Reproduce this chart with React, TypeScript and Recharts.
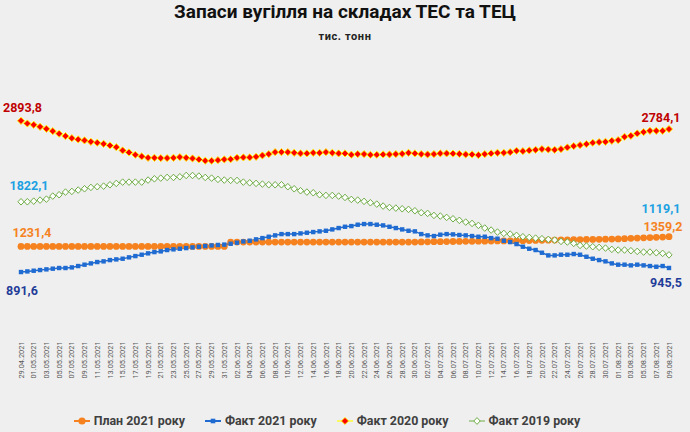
import { LineChart, Line, XAxis, YAxis, Legend, LabelList } from 'recharts';

const dates = [
  '29.04.2021', '30.04.2021',
  '01.05.2021', '02.05.2021', '03.05.2021', '04.05.2021', '05.05.2021', '06.05.2021', '07.05.2021', '08.05.2021',
  '09.05.2021', '10.05.2021', '11.05.2021', '12.05.2021', '13.05.2021', '14.05.2021', '15.05.2021', '16.05.2021',
  '17.05.2021', '18.05.2021', '19.05.2021', '20.05.2021', '21.05.2021', '22.05.2021', '23.05.2021', '24.05.2021',
  '25.05.2021', '26.05.2021', '27.05.2021', '28.05.2021', '29.05.2021', '30.05.2021', '31.05.2021',
  '01.06.2021', '02.06.2021', '03.06.2021', '04.06.2021', '05.06.2021', '06.06.2021', '07.06.2021', '08.06.2021',
  '09.06.2021', '10.06.2021', '11.06.2021', '12.06.2021', '13.06.2021', '14.06.2021', '15.06.2021', '16.06.2021',
  '17.06.2021', '18.06.2021', '19.06.2021', '20.06.2021', '21.06.2021', '22.06.2021', '23.06.2021', '24.06.2021',
  '25.06.2021', '26.06.2021', '27.06.2021', '28.06.2021', '29.06.2021', '30.06.2021',
  '01.07.2021', '02.07.2021', '03.07.2021', '04.07.2021', '05.07.2021', '06.07.2021', '07.07.2021', '08.07.2021',
  '09.07.2021', '10.07.2021', '11.07.2021', '12.07.2021', '13.07.2021', '14.07.2021', '15.07.2021', '16.07.2021',
  '17.07.2021', '18.07.2021', '19.07.2021', '20.07.2021', '21.07.2021', '22.07.2021', '23.07.2021', '24.07.2021',
  '25.07.2021', '26.07.2021', '27.07.2021', '28.07.2021', '29.07.2021', '30.07.2021', '31.07.2021',
  '01.08.2021', '02.08.2021', '03.08.2021', '04.08.2021', '05.08.2021', '06.08.2021', '07.08.2021', '08.08.2021',
  '09.08.2021',
];

// тис. тонн
const plan2021 = [
  1231.4, 1231.4, 1231.4, 1231.4, 1231.4, 1231.4, 1231.4, 1231.4, 1231.4, 1231.4,
  1231.4, 1231.4, 1231.4, 1231.4, 1231.4, 1231.4, 1231.4, 1231.4, 1231.4, 1231.4,
  1231.4, 1231.4, 1231.4, 1231.4, 1231.4, 1231.4, 1231.4, 1231.4, 1231.4, 1231.4,
  1231.4, 1231.4, 1231.4,
  1289, 1289, 1289, 1289, 1289, 1289, 1289, 1289, 1289, 1289,
  1289, 1289, 1289, 1289, 1289, 1289, 1289, 1289, 1289, 1289,
  1289, 1289, 1289, 1289, 1289, 1289, 1289, 1289, 1289, 1289,
  1290, 1291, 1293, 1294, 1295, 1296, 1297, 1298, 1298, 1300,
  1300, 1302, 1303, 1304, 1305, 1306, 1307, 1309, 1310, 1311,
  1313, 1315, 1317, 1318, 1320, 1322, 1323, 1324, 1325, 1327, 1328,
  1330, 1334, 1338, 1341, 1344, 1348, 1351, 1355, 1359.2,
];

const fact2021 = [
  891.6, 900, 909, 918, 927, 936, 945, 945, 953, 971,
  989, 1006, 1024, 1033, 1050, 1059, 1068, 1086, 1103, 1121,
  1139, 1156, 1165, 1183, 1192, 1200, 1209, 1218, 1227, 1236,
  1244, 1250, 1255, 1266, 1280, 1297, 1306, 1324, 1341, 1359,
  1377, 1394, 1394, 1394, 1403, 1412, 1421, 1430, 1438, 1456,
  1474, 1491, 1500, 1518, 1527, 1527, 1518, 1509, 1491, 1474,
  1456, 1438, 1430, 1394, 1377, 1368, 1386, 1394, 1390, 1382,
  1377, 1368, 1359, 1359, 1341, 1333, 1306, 1289, 1262, 1227,
  1200, 1183, 1147, 1112, 1112, 1121, 1121, 1130, 1121, 1094,
  1068, 1050, 1033, 1006, 989, 989, 980, 989, 980, 971,
  962, 971, 945.5,
];

const fact2020 = [
  2893.8, 2858, 2841, 2814, 2788, 2757, 2722, 2691, 2664, 2647,
  2634, 2616, 2603, 2589, 2567, 2545, 2501, 2475, 2444, 2422,
  2404, 2404, 2400, 2400, 2404, 2413, 2404, 2395, 2382, 2365,
  2365, 2373, 2382, 2385, 2404, 2409, 2409, 2417, 2435, 2453,
  2479, 2479, 2479, 2470, 2462, 2462, 2470, 2470, 2479, 2470,
  2462, 2462, 2445, 2453, 2453, 2444, 2444, 2448, 2448, 2453,
  2457, 2470, 2462, 2453, 2448, 2453, 2462, 2462, 2460, 2455,
  2448, 2448, 2440, 2453, 2462, 2470, 2470, 2479, 2497, 2492,
  2501, 2510, 2519, 2514, 2510, 2519, 2541, 2559, 2572, 2585,
  2603, 2612, 2616, 2629, 2638, 2682, 2695, 2726, 2744, 2761,
  2761, 2761, 2784.1,
];

const fact2019 = [
  1822.1, 1822, 1830, 1844, 1857, 1897, 1915, 1950, 1959, 1977,
  1994, 2012, 2021, 2029, 2047, 2065, 2082, 2082, 2082, 2082,
  2109, 2126, 2135, 2144, 2144, 2153, 2170, 2170, 2162, 2144,
  2135, 2118, 2109, 2105, 2104, 2082, 2073, 2065, 2056, 2047,
  2047, 2047, 2021, 1994, 1968, 1950, 1941, 1915, 1906, 1906,
  1897, 1879, 1853, 1844, 1827, 1809, 1791, 1765, 1747, 1738,
  1729, 1721, 1703, 1677, 1668, 1641, 1633, 1615, 1597, 1576,
  1553, 1535, 1509, 1474, 1447, 1421, 1403, 1394, 1377, 1359,
  1350, 1341, 1333, 1324, 1315, 1297, 1289, 1271, 1244, 1236,
  1227, 1218, 1209, 1192, 1183, 1183, 1174, 1165, 1156, 1156,
  1147, 1139, 1119.1,
];

const data = dates.map((date, i) => ({
  date,
  plan2021: plan2021[i],
  fact2021: fact2021[i],
  fact2020: fact2020[i],
  fact2019: fact2019[i],
}));

const FONT = 'Roboto, "Noto Sans", sans-serif';
const ORANGE = '#f5821f';
const BLUE = '#1f6bd1';
const RED = '#ff0000';
const YELLOW = '#ffff00';
const GREEN = '#70ad47';

const LAST = dates.length - 1;

const fmt = (v: number) => v.toFixed(1).replace('.', ',');

type EndLabel = { dx: number; dy: number; color: string };

// label offsets for the first and last point of each series
function endLabels(first: EndLabel, last: EndLabel) {
  return (props: any) => {
    const { x, y, value, index } = props;
    const cfg = index === 0 ? first : index === LAST ? last : null;
    if (!cfg) return null;
    return (
      <text
        x={x + cfg.dx}
        y={y + cfg.dy}
        textAnchor="middle"
        fontFamily={FONT}
        fontWeight={700}
        fontSize={12.5}
        fill={cfg.color}
      >
        {fmt(Number(value))}
      </text>
    );
  };
}

const circleDot = (p: any) => (
  <circle key={`o${p.index}`} cx={p.cx} cy={p.cy} r={3.4} fill={ORANGE} />
);
const squareDot = (p: any) => (
  <rect key={`b${p.index}`} x={p.cx - 2.2} y={p.cy - 2.2} width={4.4} height={4.4} fill={BLUE} />
);
const redDot = (p: any) => (
  <path
    key={`r${p.index}`}
    d={`M${p.cx},${p.cy - 3.6}L${p.cx + 3.6},${p.cy}L${p.cx},${p.cy + 3.6}L${p.cx - 3.6},${p.cy}Z`}
    fill={RED}
    stroke={YELLOW}
    strokeWidth={0.9}
  />
);
const greenDot = (p: any) => (
  <path
    key={`g${p.index}`}
    d={`M${p.cx},${p.cy - 3.3}L${p.cx + 3.1},${p.cy}L${p.cx},${p.cy + 3.3}L${p.cx - 3.1},${p.cy}Z`}
    fill="#ffffff"
    stroke={GREEN}
    strokeWidth={1}
  />
);

function DateTick({ x, y, payload }: any) {
  return (
    <text
      transform={`translate(${x + 2.6},${y}) rotate(-90)`}
      textAnchor="end"
      fontFamily={FONT}
      fontSize={7.4}
      fill="#595959"
    >
      {payload.value}
    </text>
  );
}

const legendItems = [
  { name: 'План 2021 року', kind: 'plan' },
  { name: 'Факт 2021 року', kind: 'f21' },
  { name: 'Факт 2020 року', kind: 'f20' },
  { name: 'Факт 2019 року', kind: 'f19' },
];

function LegendIcon({ kind }: { kind: string }) {
  if (kind === 'plan')
    return (
      <svg width={16} height={10}>
        <line x1={0} y1={5} x2={16} y2={5} stroke={ORANGE} strokeWidth={2} />
        <circle cx={8} cy={5} r={3.6} fill={ORANGE} />
      </svg>
    );
  if (kind === 'f21')
    return (
      <svg width={16} height={10}>
        <line x1={0} y1={5} x2={16} y2={5} stroke={BLUE} strokeWidth={2} />
        <rect x={5.7} y={2.7} width={4.6} height={4.6} fill={BLUE} />
      </svg>
    );
  if (kind === 'f20')
    return (
      <svg width={16} height={10}>
        <line x1={0} y1={5} x2={16} y2={5} stroke={YELLOW} strokeWidth={1.2} />
        <path d="M8,1.4L11.6,5L8,8.6L4.4,5Z" fill={RED} stroke={YELLOW} strokeWidth={0.8} />
      </svg>
    );
  return (
    <svg width={16} height={10}>
      <line x1={0} y1={5} x2={16} y2={5} stroke={GREEN} strokeWidth={1} />
      <path d="M8,1.6L11.2,5L8,8.4L4.8,5Z" fill="#ffffff" stroke={GREEN} strokeWidth={1} />
    </svg>
  );
}

function ChartLegend() {
  return (
    <div
      style={{
        display: 'flex',
        justifyContent: 'center',
        alignItems: 'center',
        fontFamily: FONT,
        paddingTop: 11,
        paddingRight: 36,
      }}
    >
      {legendItems.map((it) => (
        <div key={it.name} style={{ display: 'flex', alignItems: 'center', margin: '0 10px' }}>
          <LegendIcon kind={it.kind} />
          <span style={{ marginLeft: 4, fontSize: 12.4, fontWeight: 700, color: '#404040' }}>{it.name}</span>
        </div>
      ))}
    </div>
  );
}

export default function App() {
  return (
    <div
      style={{
        position: 'fixed',
        left: 0,
        top: 0,
        width: 690,
        height: 432,
        background: '#efefef',
        overflow: 'hidden',
      }}
    >
      <div
        style={{
          position: 'absolute',
          top: 0,
          width: 690,
          textAlign: 'center',
          fontFamily: FONT,
          fontWeight: 700,
          fontSize: 19,
          color: '#111',
        }}
      >
        Запаси вугілля на складах ТЕС та ТЕЦ
      </div>
      <div
        style={{
          position: 'absolute',
          top: 30,
          width: 690,
          textAlign: 'center',
          fontFamily: FONT,
          fontWeight: 700,
          fontSize: 11,
          letterSpacing: 0.6,
          color: '#222',
        }}
      >
        тис. тонн
      </div>
      <LineChart width={690} height={432} data={data} margin={{ top: 75, right: 21, bottom: 0, left: 21 }}>
        <XAxis
          dataKey="date"
          interval={1}
          tick={<DateTick />}
          tickLine={false}
          axisLine={false}
          tickSize={0}
          tickMargin={2}
          height={62.6}
        />
        <YAxis hide domain={[0, 3500]} />
        <Legend verticalAlign="bottom" height={30} content={<ChartLegend />} />
        <Line
          dataKey="plan2021"
          name="План 2021 року"
          stroke={ORANGE}
          strokeWidth={2}
          dot={circleDot}
          activeDot={false}
          isAnimationActive={false}
        >
          <LabelList
            dataKey="plan2021"
            content={endLabels({ dx: 11, dy: -9, color: ORANGE }, { dx: -6, dy: -6, color: ORANGE })}
          />
        </Line>
        <Line
          dataKey="fact2021"
          name="Факт 2021 року"
          stroke={BLUE}
          strokeWidth={1.5}
          dot={squareDot}
          activeDot={false}
          isAnimationActive={false}
        >
          <LabelList
            dataKey="fact2021"
            content={endLabels({ dx: 1, dy: 22.5, color: '#1f3c99' }, { dx: -3, dy: 19, color: '#1f3c99' })}
          />
        </Line>
        <Line
          dataKey="fact2020"
          name="Факт 2020 року"
          stroke={YELLOW}
          strokeWidth={1}
          dot={redDot}
          activeDot={false}
          isAnimationActive={false}
        >
          <LabelList
            dataKey="fact2020"
            content={endLabels({ dx: 1.5, dy: -9, color: '#c00000' }, { dx: -8, dy: -7, color: '#c00000' })}
          />
        </Line>
        <Line
          dataKey="fact2019"
          name="Факт 2019 року"
          stroke={GREEN}
          strokeWidth={1}
          dot={greenDot}
          activeDot={false}
          isAnimationActive={false}
        >
          <LabelList
            dataKey="fact2019"
            content={endLabels({ dx: 8, dy: -11.5, color: '#1ba1e2' }, { dx: -8, dy: -41.5, color: '#1ba1e2' })}
          />
        </Line>
      </LineChart>
    </div>
  );
}
